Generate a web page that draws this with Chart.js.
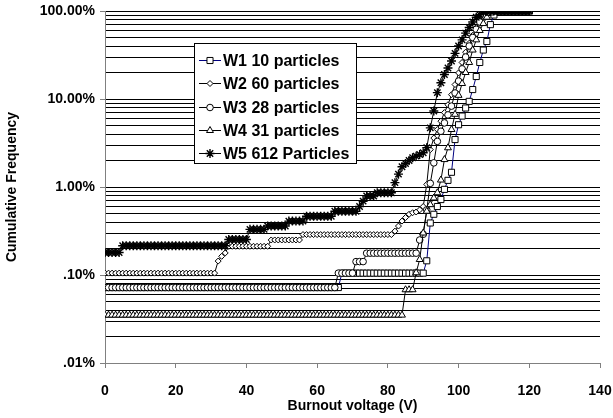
<!DOCTYPE html>
<html>
<head>
<meta charset="utf-8">
<title>Cumulative frequency of burnout voltage</title>
<script src="https://cdn.jsdelivr.net/npm/chart.js@4.4.1/dist/chart.umd.min.js"></script>
<style>
  html, body { margin: 0; padding: 0; background: #fff; }
  #box { position: relative; width: 613px; height: 418px; }
</style>
</head>
<body>
<div id="box"><canvas id="chart"></canvas></div>
<script>
// burnout voltage (V), one reading per volt
const voltage = [
  0, 1, 2, 3, 4, 5, 6, 7, 8, 9,
  10, 11, 12, 13, 14, 15, 16, 17, 18, 19,
  20, 21, 22, 23, 24, 25, 26, 27, 28, 29,
  30, 31, 32, 33, 34, 35, 36, 37, 38, 39,
  40, 41, 42, 43, 44, 45, 46, 47, 48, 49,
  50, 51, 52, 53, 54, 55, 56, 57, 58, 59,
  60, 61, 62, 63, 64, 65, 66, 67, 68, 69,
  70, 71, 72, 73, 74, 75, 76, 77, 78, 79,
  80, 81, 82, 83, 84, 85, 86, 87, 88, 89,
  90, 91, 92, 93, 94, 95, 96, 97, 98, 99,
  100, 101, 102, 103, 104, 105, 106, 107, 108, 109,
  110, 111, 112, 113, 114, 115, 116, 117, 118, 119,
  120
];

// cumulative frequency in %
const w1 = [
  0.072, 0.072, 0.072, 0.072, 0.072, 0.072, 0.072, 0.072, 0.072, 0.072,
  0.072, 0.072, 0.072, 0.072, 0.072, 0.072, 0.072, 0.072, 0.072, 0.072,
  0.072, 0.072, 0.072, 0.072, 0.072, 0.072, 0.072, 0.072, 0.072, 0.072,
  0.072, 0.072, 0.072, 0.072, 0.072, 0.072, 0.072, 0.072, 0.072, 0.072,
  0.072, 0.072, 0.072, 0.072, 0.072, 0.072, 0.072, 0.072, 0.072, 0.072,
  0.072, 0.072, 0.072, 0.072, 0.072, 0.072, 0.072, 0.072, 0.072, 0.072,
  0.072, 0.072, 0.072, 0.072, 0.072, 0.072, 0.072, 0.105, 0.105, 0.105,
  0.105, 0.105, 0.105, 0.105, 0.105, 0.105, 0.105, 0.105, 0.105, 0.105,
  0.105, 0.105, 0.105, 0.105, 0.105, 0.105, 0.105, 0.105, 0.105, 0.105,
  0.105, 0.145, 0.39, 0.49, 0.6, 0.72, 0.94, 1.19, 1.47, 3.46,
  5.1, 6.4, 7.9, 9.4, 12.8, 18, 26, 36, 45, 70,
  90, 100, 100, 100, 100, 100, 100, 100, 100, 100,
  100
];
const w2 = [
  0.105, 0.105, 0.105, 0.105, 0.105, 0.105, 0.105, 0.105, 0.105, 0.105,
  0.105, 0.105, 0.105, 0.105, 0.105, 0.105, 0.105, 0.105, 0.105, 0.105,
  0.105, 0.105, 0.105, 0.105, 0.105, 0.105, 0.105, 0.105, 0.105, 0.105,
  0.105, 0.105, 0.144, 0.163, 0.178, 0.212, 0.212, 0.212, 0.212, 0.212,
  0.212, 0.212, 0.212, 0.212, 0.212, 0.212, 0.212, 0.25, 0.25, 0.25,
  0.25, 0.25, 0.25, 0.25, 0.25, 0.25, 0.288, 0.288, 0.288, 0.288,
  0.288, 0.288, 0.288, 0.288, 0.288, 0.288, 0.288, 0.288, 0.288, 0.288,
  0.288, 0.288, 0.288, 0.288, 0.288, 0.288, 0.288, 0.288, 0.288, 0.288,
  0.288, 0.288, 0.315, 0.36, 0.41, 0.45, 0.49, 0.51, 0.52, 0.55,
  0.6, 1.07, 2.66, 3.6, 4.5, 5.6, 7, 8.6, 11.2, 14.6,
  19.8, 26, 34, 43, 53, 65, 78, 90, 100, 100,
  100, 100, 100, 100, 100, 100, 100, 100, 100, 100,
  100
];
const w3 = [
  0.072, 0.072, 0.072, 0.072, 0.072, 0.072, 0.072, 0.072, 0.072, 0.072,
  0.072, 0.072, 0.072, 0.072, 0.072, 0.072, 0.072, 0.072, 0.072, 0.072,
  0.072, 0.072, 0.072, 0.072, 0.072, 0.072, 0.072, 0.072, 0.072, 0.072,
  0.072, 0.072, 0.072, 0.072, 0.072, 0.072, 0.072, 0.072, 0.072, 0.072,
  0.072, 0.072, 0.072, 0.072, 0.072, 0.072, 0.072, 0.072, 0.072, 0.072,
  0.072, 0.072, 0.072, 0.072, 0.072, 0.072, 0.072, 0.072, 0.072, 0.072,
  0.072, 0.072, 0.072, 0.072, 0.072, 0.072, 0.105, 0.105, 0.105, 0.105,
  0.105, 0.142, 0.142, 0.142, 0.177, 0.177, 0.177, 0.177, 0.177, 0.177,
  0.177, 0.177, 0.177, 0.177, 0.177, 0.177, 0.177, 0.177, 0.177, 0.25,
  0.29, 0.55, 1.1, 1.88, 3.3, 4.3, 5.35, 6.6, 8.3, 11.7,
  16, 22, 30, 40, 50, 62, 75, 90, 100, 100,
  100, 100, 100, 100, 100, 100, 100, 100, 100, 100,
  100
];
const w4 = [
  0.035, 0.035, 0.035, 0.035, 0.035, 0.035, 0.035, 0.035, 0.035, 0.035,
  0.035, 0.035, 0.035, 0.035, 0.035, 0.035, 0.035, 0.035, 0.035, 0.035,
  0.035, 0.035, 0.035, 0.035, 0.035, 0.035, 0.035, 0.035, 0.035, 0.035,
  0.035, 0.035, 0.035, 0.035, 0.035, 0.035, 0.035, 0.035, 0.035, 0.035,
  0.035, 0.035, 0.035, 0.035, 0.035, 0.035, 0.035, 0.035, 0.035, 0.035,
  0.035, 0.035, 0.035, 0.035, 0.035, 0.035, 0.035, 0.035, 0.035, 0.035,
  0.035, 0.035, 0.035, 0.035, 0.035, 0.035, 0.035, 0.035, 0.035, 0.035,
  0.035, 0.035, 0.035, 0.035, 0.035, 0.035, 0.035, 0.035, 0.035, 0.035,
  0.035, 0.035, 0.035, 0.035, 0.035, 0.068, 0.068, 0.068, 0.106, 0.15,
  0.3, 0.53, 0.63, 0.75, 0.86, 1.2, 2.05, 2.79, 4.5, 6.7,
  11, 15, 20, 26, 36, 47, 60, 72, 85, 95,
  100, 100, 100, 100, 100, 100, 100, 100, 100, 100,
  100
];
const w5 = [
  0.18, 0.18, 0.18, 0.18, 0.18, 0.215, 0.215, 0.215, 0.215, 0.215,
  0.215, 0.215, 0.215, 0.215, 0.215, 0.215, 0.215, 0.215, 0.215, 0.215,
  0.215, 0.215, 0.215, 0.215, 0.215, 0.215, 0.215, 0.215, 0.215, 0.215,
  0.215, 0.215, 0.215, 0.215, 0.215, 0.253, 0.253, 0.253, 0.253, 0.253,
  0.253, 0.33, 0.33, 0.33, 0.33, 0.33, 0.36, 0.36, 0.36, 0.36,
  0.36, 0.36, 0.41, 0.41, 0.41, 0.41, 0.41, 0.465, 0.465, 0.465,
  0.465, 0.465, 0.465, 0.465, 0.465, 0.53, 0.53, 0.53, 0.53, 0.53,
  0.53, 0.53, 0.6, 0.69, 0.79, 0.79, 0.79, 0.86, 0.86, 0.86,
  0.86, 0.86, 1.12, 1.4, 1.7, 1.85, 2.0, 2.15, 2.24, 2.34,
  2.45, 2.8, 4.7, 7.3, 11.8, 15.3, 19, 22.5, 27, 33,
  40, 47, 56, 65, 75, 85, 91, 97, 99, 100,
  100, 100, 100, 100, 100, 100, 100, 100, 100, 100,
  100
];

const seriesNames = ['W1 10 particles', 'W2 60 particles', 'W3 28 particles', 'W4 31 particles', 'W5 612 Particles'];
const yTickValues = [0.01, 0.1, 1, 10, 100];
const yTickLabels = ['.01%', '.10%', '1.00%', '10.00%', '100.00%'];
const xTickStep = 20;

const FONT = '"Liberation Sans", Arial, sans-serif';
Chart.defaults.font.family = FONT;
Chart.defaults.color = '#000';

// horizontal grid at every 1..9 step of each decade
const gridValues = [];
yTickValues.forEach((d, i) => {
    if (i === yTickValues.length - 1) { gridValues.push(d); return; }
    for (let m = 1; m <= 9; m++) gridValues.push(+(d * m).toPrecision(3));
});

function pts(ys) {
    return voltage.map((v, i) => ({ x: v, y: ys[i] }));
}

function makeSet(label, ys, style, radius, lineColor, order, markWidth) {
    return {
        label: label,
        data: pts(ys),
        showLine: true,
        borderColor: lineColor,
        borderWidth: 1,
        pointStyle: style,
        pointRadius: radius,
        pointBorderWidth: markWidth || 1,
        pointBorderColor: '#000',
        pointBackgroundColor: '#fff',
        order: order
    };
}

// legend box drawn over the plot
const insideLegend = {
    id: 'insideLegend',
    afterDatasetsDraw(chart) {
        const ctx = chart.ctx;
        ctx.save();
        ctx.fillStyle = '#fff';
        ctx.strokeStyle = '#000';
        ctx.lineWidth = 1;
        ctx.fillRect(194.5, 43.5, 162, 120);
        ctx.strokeRect(194.5, 43.5, 162, 120);
        ctx.font = 'bold 16px ' + FONT;
        ctx.textBaseline = 'middle';
        chart.data.datasets.forEach((ds, i) => {
            const y = Math.round(60 + i * 23.3) + 0.5;
            ctx.strokeStyle = ds.borderColor;
            ctx.lineWidth = 1;
            ctx.beginPath();
            ctx.moveTo(199, y);
            ctx.lineTo(221, y);
            ctx.stroke();
            ctx.fillStyle = '#fff';
            ctx.strokeStyle = '#000';
            ctx.lineWidth = ds.pointBorderWidth;
            Chart.helpers.drawPoint(ctx, {
                pointStyle: ds.pointStyle, radius: ds.pointRadius, borderWidth: ds.pointBorderWidth, rotation: 0
            }, 210, y);
            ctx.fillStyle = '#000';
            ctx.fillText(ds.label, 223, y + 1);
        });
        ctx.restore();
    }
};

const ctx = document.getElementById('chart').getContext('2d');
const chart = new Chart(ctx, {
    type: 'scatter',
    data: {
        datasets: [
            makeSet(seriesNames[0], w1, 'rect', 4.3, '#000080', 5),
            makeSet(seriesNames[1], w2, 'rectRot', 3, '#000', 4),
            makeSet(seriesNames[2], w3, 'circle', 3.3, '#000', 3),
            makeSet(seriesNames[3], w4, 'triangle', 4, '#000', 2),
            makeSet(seriesNames[4], w5, 'star', 4.5, '#000', 1, 1.4)
        ]
    },
    options: {
        responsive: true,
        maintainAspectRatio: false,
        animation: false,
        layout: { autoPadding: false, padding: { left: 0, right: 13, top: 11, bottom: 0 } },
        plugins: {
            legend: { display: false },
            tooltip: { enabled: false }
        },
        scales: {
            x: {
                type: 'linear',
                min: 0,
                max: 140,
                ticks: { stepSize: xTickStep, maxRotation: 0, padding: 15, font: { size: 14, weight: 'bold' } },
                grid: { drawOnChartArea: false, tickLength: 5, color: '#808080' },
                border: { color: '#808080' },
                title: { display: true, text: 'Burnout voltage (V)', font: { size: 14, weight: 'bold' }, padding: { top: 0, bottom: 3 } },
                afterFit: s => {
                    s.height = 55;
                    s.paddingLeft = 0;
                    s.paddingRight = 0;
                }
            },
            y: {
                type: 'logarithmic',
                min: 0.01,
                max: 100,
                afterBuildTicks: s => {
                    s.ticks = gridValues.map(v => ({ value: v, major: yTickValues.includes(v) }));
                },
                ticks: {
                    autoSkip: false,
                    padding: 5,
                    font: { size: 14, weight: 'bold' },
                    callback: v => {
                        const k = yTickValues.indexOf(+(+v).toPrecision(3));
                        return k >= 0 ? yTickLabels[k] : '';
                    }
                },
                grid: {
                    color: '#000',
                    lineWidth: 1,
                    tickLength: 5,
                    tickColor: c => (c.tick && c.tick.major) ? '#808080' : 'rgba(0,0,0,0)'
                },
                border: { color: '#808080' },
                title: { display: true, text: 'Cumulative Frequency', font: { size: 14, weight: 'bold' }, padding: { top: 4, bottom: 0 } },
                afterFit: s => {
                    s.width = 105;
                    s.paddingTop = 0;
                    s.paddingBottom = 0;
                }
            }
        }
    },
    plugins: [insideLegend]
});
</script>
</body>
</html>
